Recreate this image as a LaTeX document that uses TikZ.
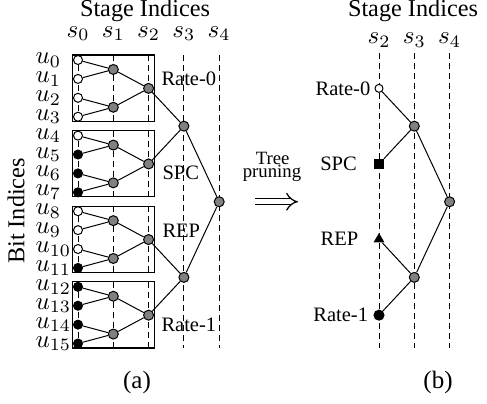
\documentclass[tikz,border=0pt]{standalone}
\usepackage{fontspec}
\setmainfont{Liberation Serif}
\usetikzlibrary{arrows.meta, positioning, shapes.geometric}

\begin{document}
\begin{tikzpicture}[
    x=0.4pt, y=-0.4pt,
    leaf/.style={circle, draw, inner sep=0pt, minimum size=3.6pt},
    zero/.style={leaf, fill=white},
    one/.style={leaf, fill=black},
    inode/.style={circle, draw, fill=gray, inner sep=0pt, minimum size=4pt},
    stagebox/.style={draw, line width=0.5pt},
    guide/.style={dash pattern=on 2.4pt off 1.6pt, line width=0.4pt},
    edge/.style={draw, line width=0.4pt},
    title/.style={font=\fontsize{9.7}{11}\selectfont, inner sep=0pt},
    lbl/.style={font=\fontsize{8.2}{9}\selectfont, inner sep=0pt},
    idx/.style={font=\fontsize{10}{11}\selectfont, inner sep=0pt}
]
\useasboundingbox (0,0) rectangle (487,403);

% (a) full tree
\node[title] (a_title) at (145,10.5) {Stage Indices};
\foreach \s in {0,...,4}
    \node[idx] (a_s\s) at ({78+35.3*\s},33.5) {$s_{\s}$};
\node[title, rotate=90] (bit_title) at (16,211) {Bit Indices};

% boxes with inner stage lines
\foreach \b in {0,...,3} {
    \draw[stagebox] ({72.5},{55+75.6*\b}) rectangle ({154.5},{60+18.9*(4*\b+3)+4.5});
    \foreach \s in {0,1,2}
        \draw[guide] ({78+35.3*\s},{55+75.6*\b}) -- ({78+35.3*\s},{60+18.9*(4*\b+3)+4.5});
}
\foreach \s in {3,4}
    \draw[guide] ({78+35.3*\s},55) -- ({78+35.3*\s},348);

% leaves
\foreach \k/\st in {0/zero,1/zero,2/zero,3/zero,4/zero,5/one,6/one,7/one,
                    8/zero,9/zero,10/zero,11/one,12/one,13/one,14/one,15/one} {
    \node[\st] (u\k) at ({78},{60+18.9*\k}) {};
    \node[idx, anchor=west] (lab_u\k) at ({35},{60+18.9*\k}) {$u_{\k}$};
}

% inner nodes
\foreach \j [evaluate=\j as \a using int(2*\j), evaluate=\j as \c using int(2*\j+1)] in {0,...,7} {
    \node[inode] (n1_\j) at ({113.3},{60+18.9*(2*\j+0.5)}) {};
    \path[edge] (u\a) -- (n1_\j) -- (u\c);
}
\foreach \j [evaluate=\j as \a using int(2*\j), evaluate=\j as \c using int(2*\j+1)] in {0,...,3} {
    \node[inode] (n2_\j) at ({148.6},{60+18.9*(4*\j+1.5)}) {};
    \path[edge] (n1_\a) -- (n2_\j) -- (n1_\c);
}
\foreach \j [evaluate=\j as \a using int(2*\j), evaluate=\j as \c using int(2*\j+1)] in {0,1} {
    \node[inode] (n3_\j) at ({183.9},{60+18.9*(8*\j+3.5)}) {};
    \path[edge] (n2_\a) -- (n3_\j) -- (n2_\c);
}
\node[inode] (n4_0) at (219.2,201.75) {};
\path[edge] (n3_0) -- (n4_0) -- (n3_1);

% node type labels
\node[lbl, anchor=west] (a_rate0) at (161,79) {Rate-0};
\node[lbl, anchor=west] (a_spc) at (162,173) {SPC};
\node[lbl, anchor=west] (a_rep) at (162,231) {REP};
\node[lbl, anchor=west] (a_rate1) at (161,325) {Rate-1};
\node[idx] (a_cap) at (137,382) {(a)};

% pruning arrow
\node[font=\fontsize{7.5}{8}\selectfont, inner sep=0pt, anchor=base] (tp_1) at (272.7,164.5) {Tree};
\node[font=\fontsize{7.5}{8}\selectfont, inner sep=0pt, anchor=base] (tp_2) at (272,177.5) {pruning};
\coordinate (arr_a) at (255,201.7);
\coordinate (arr_b) at (298,201.7);
\draw[-{Implies}, double, double distance=2pt, line width=0.5pt] (arr_a) -- (arr_b);

% (b) pruned tree
\node[title] (b_title) at (413,10.5) {Stage Indices};
\foreach \s [evaluate=\s as \t using int(\s+2)] in {0,1,2} {
    \node[idx] (b_s\t) at ({379+35.3*\s},40) {$s_{\t}$};
    \draw[guide] ({379+35.3*\s},53) -- ({379+35.3*\s},348);
}
\node[zero, minimum size=3.2pt] (b_r0) at (379,88.35) {};
\node[inode] (b_n3a) at (414.3,126.15) {};
\node[draw, fill=black, inner sep=0pt, minimum size=3.8pt] (b_spc) at (379,163.95) {};
\node[inode] (b_n4) at (449.6,201.75) {};
\node[regular polygon, regular polygon sides=3, fill=black, inner sep=0pt, minimum size=5pt] (b_rep) at (379,239.2) {};
\node[inode] (b_n3b) at (414.3,277.35) {};
\node[one, minimum size=4pt] (b_r1) at (379,315.15) {};
\path[edge] (b_r0) -- (b_n3a) -- (b_spc);
\path[edge] (b_rep) -- (b_n3b) -- (b_r1);
\path[edge] (b_n3a) -- (b_n4) -- (b_n3b);

\node[lbl, left=1.5pt of b_r0] (b_rate0) {Rate-0};
\node[lbl, left=6.6pt of b_spc] (b_spc_t) {SPC};
\node[lbl, left=6.4pt of b_rep] (b_rep_t) {REP};
\node[lbl, left=2pt of b_r1] (b_rate1) {Rate-1};
\node[idx] (b_cap) at (438,382) {(b)};
\end{tikzpicture}
\end{document}
